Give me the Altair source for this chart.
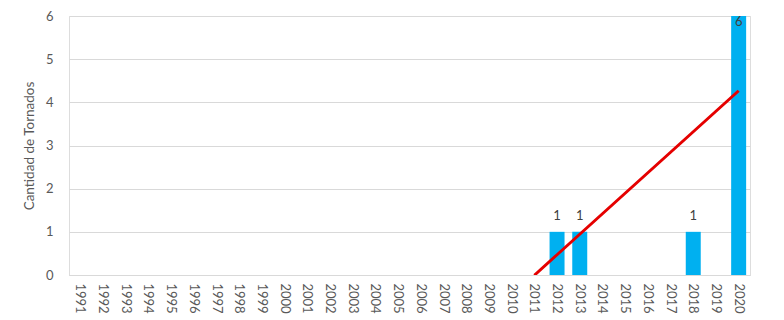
import altair as alt
import pandas as pd
import numpy as np

years = [str(y) for y in range(1991, 2021)]
counts = [None] * 21 + [1, 1, None, None, None, None, 1, None, 6]

df = pd.DataFrame({"year": years, "count": counts})

# Excel linear trendline fitted on the non-empty years
known = df.dropna()
xs = known["year"].astype(int).to_numpy()
ys = known["count"].astype(float).to_numpy()
slope, intercept = np.polyfit(xs, ys, 1)
trend = pd.DataFrame({"year": years,
                      "trend": [slope * int(y) + intercept for y in years]})
trend = trend[trend["trend"] >= -0.2]

font = "Lato"
grey = "#595959"

xenc = alt.X("year:O", sort=years,
             scale=alt.Scale(domain=years, paddingInner=0.34, paddingOuter=0.17),
             axis=alt.Axis(title=None, labelAngle=90, labelAlign="left",
                           labelBaseline="middle", labelPadding=8, ticks=False,
                           domainColor="#d9d9d9", labelFont=font, labelFontSize=13,
                           labelColor=grey))
yscale = alt.Scale(domain=[0, 6], nice=False)

bars = alt.Chart(df).mark_bar(color="#00B0F0").encode(
    x=xenc,
    y=alt.Y("count:Q", scale=yscale,
            axis=alt.Axis(title="Cantidad de Tornados", values=[0, 1, 2, 3, 4, 5, 6],
                          domain=False, ticks=False, labelPadding=16,
                          gridColor="#d9d9d9", labelFont=font, labelFontSize=13,
                          labelColor=grey, titleFont=font, titleFontSize=13.5,
                          titleColor=grey, titleFontWeight="normal", titlePadding=9)),
)

labels = alt.Chart(df).transform_filter("datum['count'] != null").transform_calculate(
    ly="datum['count'] >= 5.5 ? datum['count'] - 0.13 : datum['count'] + 0.36"
).mark_text(font=font, fontSize=13, color="#404040", baseline="middle").encode(
    x=alt.X("year:O", sort=years),
    y=alt.Y("ly:Q", scale=yscale),
    text=alt.Text("count:Q"),
)

line = alt.Chart(trend).mark_line(color="#E50000", strokeWidth=3, clip=True).encode(
    x=alt.X("year:O", sort=years),
    y=alt.Y("trend:Q", scale=yscale),
)

chart = alt.layer(bars, line, labels).properties(
    width=681, height=259,
    autosize=alt.AutoSizeParams(type="none"),
    padding={"left": 61, "top": 8, "right": 22, "bottom": 40},
).configure_view(stroke=None).configure(background="white")

chart.save("out.html", embed_options={"renderer": "svg", "actions": False})
